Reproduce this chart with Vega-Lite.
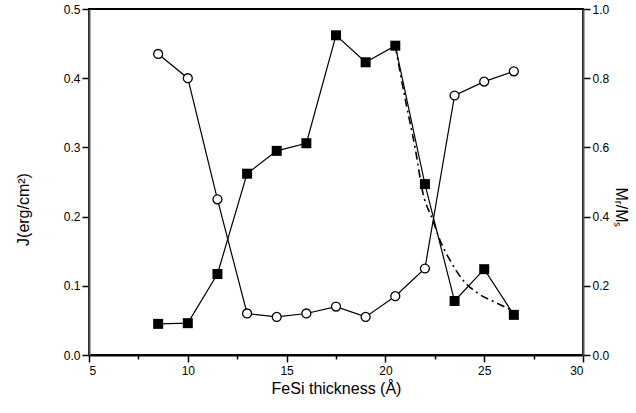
{
  "$schema": "https://vega.github.io/schema/vega-lite/v6.json",
  "autosize": "none",
  "width": 494,
  "height": 346,
  "padding": {"left": 89, "top": 9, "right": 53, "bottom": 58},
  "background": "white",
  "config": {
    "view": {"stroke": "black", "strokeWidth": 2},
    "font": "Liberation Sans",
    "axis": {
      "labelFont": "Liberation Sans",
      "titleFont": "Liberation Sans",
      "labelFontSize": 12,
      "titleFontSize": 16,
      "titleFontWeight": "normal",
      "labelColor": "black",
      "titleColor": "black",
      "tickColor": "black",
      "grid": false,
      "labelOverlap": false
    }
  },
  "datasets": {
    "main": [
      {"x": 8.5, "J": 0.045, "M": 0.87},
      {"x": 10, "J": 0.046, "M": 0.80},
      {"x": 11.5, "J": 0.117, "M": 0.45},
      {"x": 13, "J": 0.262, "M": 0.12},
      {"x": 14.5, "J": 0.295, "M": 0.11},
      {"x": 16, "J": 0.306, "M": 0.12},
      {"x": 17.5, "J": 0.462, "M": 0.14},
      {"x": 19, "J": 0.423, "M": 0.11},
      {"x": 20.5, "J": 0.447, "M": 0.17},
      {"x": 22, "J": 0.247, "M": 0.25},
      {"x": 23.5, "J": 0.078, "M": 0.75},
      {"x": 25, "J": 0.124, "M": 0.79},
      {"x": 26.5, "J": 0.058, "M": 0.82}
    ],
    "fit": [
      {"x": 20.5, "F": 0.447},
      {"x": 21.0, "F": 0.37},
      {"x": 21.5, "F": 0.30},
      {"x": 21.9, "F": 0.234},
      {"x": 22.4, "F": 0.195},
      {"x": 22.76, "F": 0.166},
      {"x": 23.27, "F": 0.137},
      {"x": 23.93, "F": 0.108},
      {"x": 24.64, "F": 0.090},
      {"x": 25.65, "F": 0.075},
      {"x": 26.5, "F": 0.063}
    ]
  },
  "layer": [
    {
      "layer": [
        {
          "data": {"name": "main"},
          "mark": {"type": "line", "color": "black", "strokeWidth": 1.2},
          "encoding": {
            "x": {"field": "x", "type": "quantitative"},
            "y": {"field": "J", "type": "quantitative"}
          }
        },
        {
          "data": {"name": "fit"},
          "mark": {"type": "line", "color": "black", "strokeWidth": 1.6, "strokeDash": [8, 4, 2, 4], "interpolate": "monotone"},
          "encoding": {
            "x": {"field": "x", "type": "quantitative"},
            "y": {"field": "F", "type": "quantitative"}
          }
        },
        {
          "data": {"name": "main"},
          "mark": {"type": "square", "filled": true, "color": "black", "size": 100, "opacity": 1},
          "encoding": {
            "x": {
              "field": "x", "type": "quantitative",
              "scale": {"domain": [5, 30], "nice": false},
              "axis": {
                "title": "FeSi thickness (Å)",
                "values": [5, 7.5, 10, 12.5, 15, 17.5, 20, 22.5, 25, 27.5, 30],
                "labelExpr": "datum.value % 5 === 0 ? format(datum.value, 'd') : ''",
                "tickSize": {"condition": {"test": "datum.value % 5 === 0", "value": 7}, "value": 4},
                "tickWidth": 1.5,
                "domainColor": "black",
                "domainWidth": 2,
                "labelPadding": 3,
                "titlePadding": 4
              }
            },
            "y": {
              "field": "J", "type": "quantitative",
              "scale": {"domain": [0, 0.5], "nice": false},
              "axis": {
                "title": "J(erg/cm²)",
                "orient": "left",
                "values": [0, 0.05, 0.1, 0.15, 0.2, 0.25, 0.3, 0.35, 0.4, 0.45, 0.5],
                "labelExpr": "round(datum.value * 100) % 10 === 0 ? format(datum.value, '.1f') : ''",
                "tickSize": {"condition": {"test": "round(datum.value * 100) % 10 === 0", "value": 7}, "value": 4},
                "tickWidth": 1.5,
                "domainColor": "#555555",
                "domainWidth": 2,
                "labelPadding": 2,
                "titlePadding": 32,
                "titleY": 200
              }
            }
          }
        }
      ]
    },
    {
      "data": {"name": "main"},
      "layer": [
        {
          "mark": {"type": "line", "color": "black", "strokeWidth": 1.2},
          "encoding": {
            "x": {"field": "x", "type": "quantitative"},
            "y": {"field": "M", "type": "quantitative"}
          }
        },
        {
          "mark": {"type": "point", "shape": "circle", "filled": true, "fill": "white", "stroke": "black", "strokeWidth": 1.3, "size": 80, "opacity": 1},
          "encoding": {
            "x": {"field": "x", "type": "quantitative"},
            "y": {
              "field": "M", "type": "quantitative",
              "scale": {"domain": [0, 1], "nice": false},
              "axis": {
                "title": "Mᵣ/Mₛ",
                "orient": "right",
                "titleAngle": 90,
                "values": [0, 0.1, 0.2, 0.3, 0.4, 0.5, 0.6, 0.7, 0.8, 0.9, 1.0],
                "labelExpr": "round(datum.value * 10) % 2 === 0 ? format(datum.value, '.1f') : ''",
                "tickSize": {"condition": {"test": "round(datum.value * 10) % 2 === 0", "value": 7}, "value": 4},
                "tickWidth": 1.5,
                "domainColor": "#555555",
                "domainWidth": 2,
                "labelPadding": 2,
                "titlePadding": 4,
                "titleY": 198
              }
            }
          }
        }
      ]
    }
  ],
  "resolve": {"scale": {"y": "independent"}}
}
